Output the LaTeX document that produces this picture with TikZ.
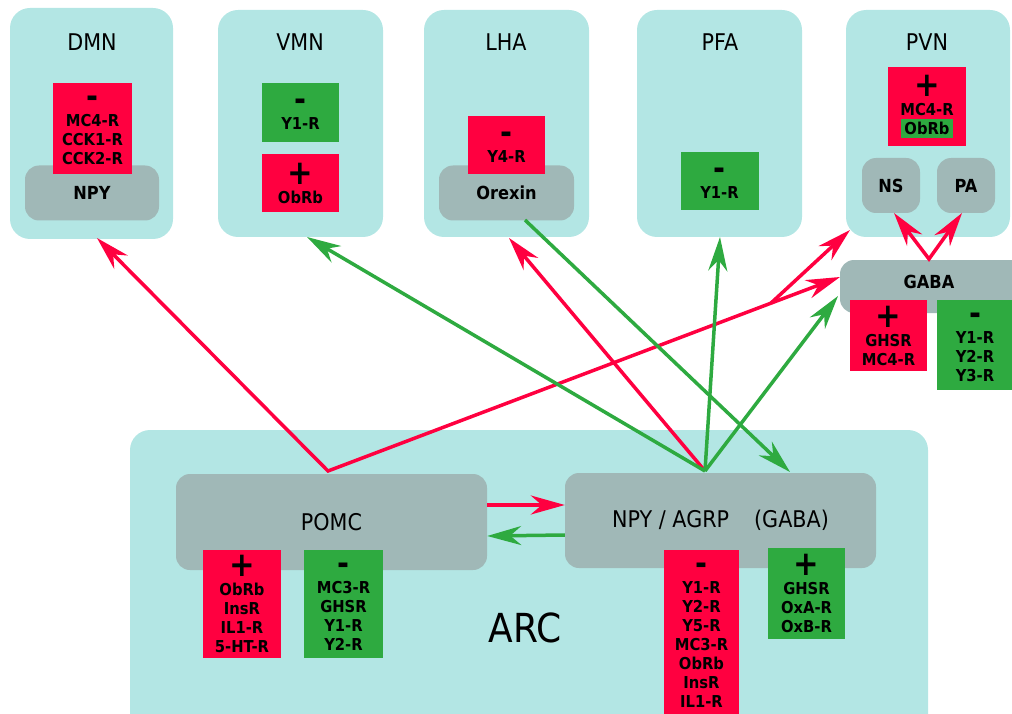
\documentclass[tikz,border=0pt]{standalone}
\usepackage{fontspec}
\setmainfont{DejaVu Sans}[FakeStretch=0.9]
\usetikzlibrary{arrows.meta,calc}
\definecolor{Pool}{HTML}{B3E6E4}
\definecolor{Cell}{HTML}{A0B8B7}
\definecolor{Excite}{HTML}{FF0040}
\definecolor{Inhib}{HTML}{2EAA40}
\tikzset{
  region/.style={fill=Pool,rounded corners=20pt,inner sep=0pt},
  cell/.style={fill=Cell,rounded corners=14pt,inner sep=0pt},
  title/.style={font=\fontsize{23}{26}\selectfont},
  cellname/.style={font=\fontsize{18}{20}\selectfont\bfseries},
  rcpt/.style={inner sep=0pt,align=center,font=\fontsize{16.4}{19}\selectfont\bfseries},
  rred/.style={rcpt,fill=Excite},
  rgreen/.style={rcpt,fill=Inhib},
  link/.style={line width=3.5pt,-{Stealth[length=34pt,width=19pt,inset=11pt]}},
  twolink/.style={line width=3.5pt,{Stealth[length=34pt,width=19pt,inset=11pt]}-{Stealth[length=34pt,width=19pt,inset=11pt]}},
  redlink/.style={link,draw=Excite},
  greenlink/.style={link,draw=Inhib}
}
\newcommand{\plussgn}{{\fontsize{34}{34}\selectfont +}\\}
\newcommand{\minussgn}{{\fontsize{32}{32}\selectfont\rule{0pt}{16pt}-}\\}
\setlength{\fboxsep}{3pt}

\begin{document}
\begin{tikzpicture}[x=1pt,y=-1pt]
  \useasboundingbox (0,0) rectangle (1012,714);
  % regions
  \node[region,minimum width=163,minimum height=231] (dmn) at (91.5,123.5) {};
  \node[region,minimum width=165,minimum height=227] (vmn) at (300.5,123.5) {};
  \node[region,minimum width=165,minimum height=227] (lha) at (506.5,123.5) {};
  \node[region,minimum width=165,minimum height=227] (pfa) at (719.5,123.5) {};
  \node[region,minimum width=164,minimum height=227] (pvn) at (928,123.5) {};
  \node[region,minimum width=798,minimum height=310] (arc) at (529,585) {};
  \node[title] (dmntitle) at (92,42) {DMN};
  \node[title] (vmntitle) at (300,42) {VMN};
  \node[title] (lhatitle) at (506,42) {LHA};
  \node[title] (pfatitle) at (720,42) {PFA};
  \node[title] (pvntitle) at (927,42) {PVN};
  \node[font=\fontsize{40}{44}\selectfont] (arctitle) at (525,628) {ARC};
  % neurons
  \node[cell,cellname,minimum width=134,minimum height=55] (npyd) at (92,193) {NPY};
  \node[cell,cellname,minimum width=135,minimum height=55] (orexin) at (506.5,193) {Orexin};
  \node[cell,cellname,minimum width=58,minimum height=55] (ns) at (891,185.5) {NS};
  \node[cell,cellname,minimum width=58,minimum height=55] (pa) at (966,185.5) {PA};
  \node[cell,minimum width=190,minimum height=53] (gaba) at (935,286.5) {};
  \node[cellname] (gabatxt) at (929,282) {GABA};
  \node[cell,title,minimum width=311,minimum height=96] (pomc) at (331.5,522) {POMC};
  \node[cell,title,minimum width=311,minimum height=95] (npy) at (720.5,520.5) {NPY / AGRP\hspace{0.8em} (GABA)};
  % receptors
  \node[rred,minimum width=79,minimum height=91] (dmnr) at (92.5,128.5) {\minussgn MC4-R\\CCK1-R\\CCK2-R};
  \node[rgreen,minimum width=77,minimum height=59] (vmng) at (300.5,112.5) {\minussgn Y1-R};
  \node[rred,minimum width=77,minimum height=58] (vmnr) at (300.5,183) {\plussgn ObRb};
  \node[rred,minimum width=77,minimum height=58] (lhar) at (506.5,145) {\minussgn Y4-R};
  \node[rgreen,minimum width=78,minimum height=58] (pfag) at (719.5,181) {\minussgn Y1-R};
  \node[rred,minimum width=78,minimum height=79] (pvnr) at (927,106.5) {\plussgn MC4-R\\\colorbox{Inhib}{ObRb}};
  \node[rred,minimum width=77,minimum height=71] (gabar) at (888.5,335.5) {\plussgn GHSR\\MC4-R};
  \node[rgreen,minimum width=76,minimum height=90] (gabag) at (975,345) {\minussgn Y1-R\\Y2-R\\Y3-R};
  \node[rred,minimum width=78,minimum height=108] (pomcr) at (242,604) {\plussgn ObRb\\InsR\\IL1-R\\5-HT-R};
  \node[rgreen,minimum width=79,minimum height=108] (pomcg) at (343.5,604) {\minussgn MC3-R\\GHSR\\Y1-R\\Y2-R};
  \node[rred,minimum width=75,minimum height=166] (npyr) at (701.5,633) {\minussgn Y1-R\\Y2-R\\Y5-R\\MC3-R\\ObRb\\InsR\\IL1-R};
  \node[rgreen,minimum width=77,minimum height=91] (npyg) at (806.5,593.5) {\plussgn GHSR\\OxA-R\\OxB-R};
  % projections
  \coordinate (pomcapex) at (328,471);
  \coordinate (npyapex) at (705,471);
  \coordinate (dmnin) at (97,238);
  \coordinate (vmnin) at (307,237);
  \coordinate (lhain) at (509,238);
  \coordinate (pfain) at (720,237);
  \coordinate (pvnin) at (850,230);
  \coordinate (gabain) at (840,277);
  \coordinate (gabain2) at (838,296);
  \coordinate (gabatop) at (929,259);
  \coordinate (nsin) at (894,213);
  \coordinate (pain) at (962,213);
  \coordinate (orexout) at (525,220);
  \coordinate (npyin) at (790,472);
  \coordinate (fork) at ($(pomcapex)!0.865!(gabain)$);
  \draw[twolink,draw=Excite] (dmnin) -- (pomcapex) -- (gabain);
  \draw[redlink] (fork) -- (pvnin);
  \draw[twolink,draw=Excite] (nsin) -- (gabatop) -- (pain);
  \draw[redlink] (npyapex) -- (lhain);
  \draw[greenlink] (npyapex) -- (vmnin);
  \draw[greenlink] (npyapex) -- (pfain);
  \draw[greenlink] (npyapex) -- (gabain2);
  \draw[greenlink] (orexout) -- (npyin);
  \draw[redlink] (pomc.east |- 0,505) -- (npy.west |- 0,505);
  \draw[greenlink] (npy.west |- 0,535) -- (pomc.east |- 0,536);
\end{tikzpicture}
\end{document}
